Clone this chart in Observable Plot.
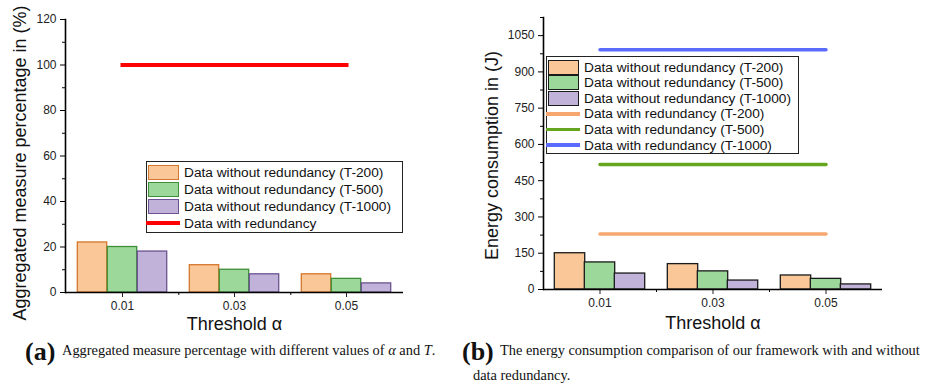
<!DOCTYPE html>
<html>
<head>
<meta charset="utf-8">
<script src="https://cdn.jsdelivr.net/npm/d3@7"></script>
<script src="https://cdn.jsdelivr.net/npm/@observablehq/plot@0.6"></script>
<style>
  body { margin: 0; background: #fff; }
  #wrap { position: relative; width: 925px; height: 384px; overflow: hidden; font-family: "Liberation Sans", Arial, sans-serif; }
  .panel { position: absolute; top: 0; }
  .legend { position: absolute; border: 1px solid #222; background: #fff; box-sizing: border-box; font-size: 13.7px; color: #111; }
  .row { position: absolute; left: 0; height: 16px; display: flex; align-items: center; white-space: nowrap; }
  .sw { display: inline-block; box-sizing: border-box; }
  .cap { position: absolute; font-family: "Liberation Serif", "Times New Roman", serif; color: #111; white-space: nowrap; }
  .lab { font-weight: bold; font-size: 26px; line-height: 26px; }
  .txt { font-size: 14.4px; line-height: 16px; }
</style>
</head>
<body>
<div id="wrap">
  <div class="panel" id="pa" style="left:0"></div>
  <div class="panel" id="pb" style="left:460px"></div>
  <div id="legA" class="legend" style="left:146px;top:161px;width:257px;height:72px"></div>
  <div id="legB" class="legend" style="left:546px;top:56px;width:253px;height:98px"></div>
  <div class="cap lab" style="left:25px;top:339px">(a)</div>
  <div class="cap txt" style="left:62px;top:342px">Aggregated measure percentage with different values of <i>α</i> and <i>T</i>.</div>
  <div class="cap lab" style="left:462px;top:339px">(b)</div>
  <div class="cap txt" style="left:500px;top:342px">The energy consumption comparison of our framework with and without</div>
  <div class="cap txt" style="left:473px;top:367px">data redundancy.</div>
</div>
<script>
// ---------- data ----------
const thresholds = ["0.01", "0.03", "0.05"];
const barSeries = ["Data without redundancy (T-200)", "Data without redundancy (T-500)", "Data without redundancy (T-1000)"];

// (a) aggregated measure percentage (%)
const pctT200 = [22, 12, 8];
const pctT500 = [20, 10, 6];
const pctT1000 = [18, 8, 4];
const pctWithRedundancy = [100, 100, 100];
const pctLineName = "Data with redundancy";
const yTicksA = [0, 20, 40, 60, 80, 100, 120];
const yMinorA = [10, 30, 50, 70, 90, 110];

// (b) energy consumption (J)
const energyT200 = [150, 105, 58];
const energyT500 = [112, 75, 44];
const energyT1000 = [66, 37, 21];
const energyRedT200 = [230, 230, 230];
const energyRedT500 = [517, 517, 517];
const energyRedT1000 = [992, 992, 992];
const lineSeriesB = ["Data with redundancy (T-200)", "Data with redundancy (T-500)", "Data with redundancy (T-1000)"];
const yTicksB = [0, 150, 300, 450, 600, 750, 900, 1050];
const yMinorB = [75, 225, 375, 525, 675, 825, 975, 1125];

// ---------- styles ----------
const barFill = ["#FAC898", "#9DD89B", "#C0B2D8"];
const barStrokeA = ["#D4772C", "#3E8E3A", "#6C5291"];
const barStrokeB = ["#1a1a1a", "#1a1a1a", "#1a1a1a"];
const lineColorA = "#FF0000";
const lineColorsB = ["#F6A66E", "#66A61E", "#5B6BFF"];

function rows(vals) { return thresholds.map((t, i) => ({t, v: vals[i]})); }

function barMarks(seriesVals, strokes) {
  const bw = 30;
  return seriesVals.map((vals, i) => Plot.barY(rows(vals), {
    x: "t", y: "v", fill: barFill[i], stroke: strokes[i], strokeWidth: 1.3,
    insetLeft: 11.3 + i * bw, insetRight: 11.3 + (2 - i) * bw
  }));
}

function commonAxes(yTicks, yMinor, minorDx, xPad) {
  return [
    Plot.axisY(yTicks, {tickSize: 5, tickPadding: 4, fontSize: 12, label: null, stroke: "#000", color: "#222", tickFormat: d => String(d)}),
    Plot.axisY(yMinor, {tickSize: 3, tickFormat: () => "", label: null}),
    Plot.axisX(thresholds, {tickSize: 5, tickPadding: xPad, fontSize: 12, label: null, color: "#222"}),
    Plot.axisX(thresholds.slice(0, 2), {tickSize: 3, tickFormat: () => "", label: null, dx: minorDx}),
    Plot.ruleY([0], {stroke: "#000", strokeWidth: 1.6}),
    Plot.frame({anchor: "left", stroke: "#000", strokeWidth: 1.6})
  ];
}

// ---------- (a) ----------
const plotA = Plot.plot({
  width: 460, height: 340,
  marginLeft: 65, marginRight: 57, marginTop: 19, marginBottom: 48,
  style: {fontFamily: "Liberation Sans, Arial, sans-serif", background: "#fff"},
  x: {type: "band", domain: thresholds, padding: 0, axis: null},
  y: {type: "linear", domain: [0, 120], axis: null},
  marks: [
    ...barMarks([pctT200, pctT500, pctT1000], barStrokeA),
    Plot.lineY(rows(pctWithRedundancy), {x: "t", y: "v", stroke: lineColorA, strokeWidth: 4, strokeLinecap: "square"}),
    ...commonAxes(yTicksA, yMinorA, 56.3, 4),
    Plot.text(["Threshold α"], {frameAnchor: "bottom", textAnchor: "middle", dy: 37, fontSize: 18, fill: "#111"}),
    Plot.text(["Aggregated measure percentage in (%)"], {frameAnchor: "left", textAnchor: "middle", dx: -45, dy: 7, rotate: -90, fontSize: 18, fill: "#111"})
  ]
});
document.getElementById("pa").appendChild(plotA);

// ---------- (b) ----------
const plotB = Plot.plot({
  width: 465, height: 340,
  marginLeft: 83, marginRight: 43, marginTop: 17, marginBottom: 51,
  style: {fontFamily: "Liberation Sans, Arial, sans-serif", background: "#fff"},
  x: {type: "band", domain: thresholds, padding: 0, axis: null},
  y: {type: "linear", domain: [0, 1125], axis: null},
  marks: [
    ...barMarks([energyT200, energyT500, energyT1000], barStrokeB),
    ...[energyRedT200, energyRedT500, energyRedT1000].map((vals, i) =>
      Plot.lineY(rows(vals), {x: "t", y: "v", stroke: lineColorsB[i], strokeWidth: 3.5})),
    ...commonAxes(yTicksB, yMinorB, 56.5, 3.5),
    Plot.text(["Threshold α"], {frameAnchor: "bottom", textAnchor: "middle", dy: 39, fontSize: 18, fill: "#111"}),
    Plot.text(["Energy consumption in (J)"], {frameAnchor: "left", textAnchor: "middle", dx: -51, dy: 2, rotate: -90, fontSize: 18, fill: "#111"})
  ]
});
document.getElementById("pb").appendChild(plotB);

// ---------- legends ----------
function swatchRect(fill, stroke, w, h) {
  const s = document.createElement("span");
  s.className = "sw";
  s.style.cssText = `width:${w}px;height:${h}px;background:${fill};border:1.3px solid ${stroke};`;
  return s;
}
function swatchLine(color, w, thick) {
  const s = document.createElement("span");
  s.className = "sw";
  s.style.cssText = `width:${w}px;height:${thick}px;background:${color};`;
  return s;
}
function addRow(leg, top, left, swatch, label, gap) {
  const r = document.createElement("div");
  r.className = "row";
  r.style.top = top + "px";
  r.style.left = left + "px";
  r.appendChild(swatch);
  const t = document.createElement("span");
  t.textContent = label;
  t.style.marginLeft = gap + "px";
  r.appendChild(t);
  leg.appendChild(r);
}
const legA = document.getElementById("legA");
barSeries.forEach((name, i) => addRow(legA, 2 + i * 17, 1, swatchRect(barFill[i], barStrokeA[i], 31, 15), name, 5));
addRow(legA, 2 + 3 * 17, -1, swatchLine(lineColorA, 34, 4), pctLineName, 4);

const legB = document.getElementById("legB");
barSeries.forEach((name, i) => addRow(legB, 2 + i * 15.6, 1, swatchRect(barFill[i], barStrokeB[i], 31, 15), name, 5));
lineSeriesB.forEach((name, i) => addRow(legB, 2 + (i + 3) * 15.6, -1, swatchLine(lineColorsB[i], 34, 3.5), name, 4));
</script>
</body>
</html>
